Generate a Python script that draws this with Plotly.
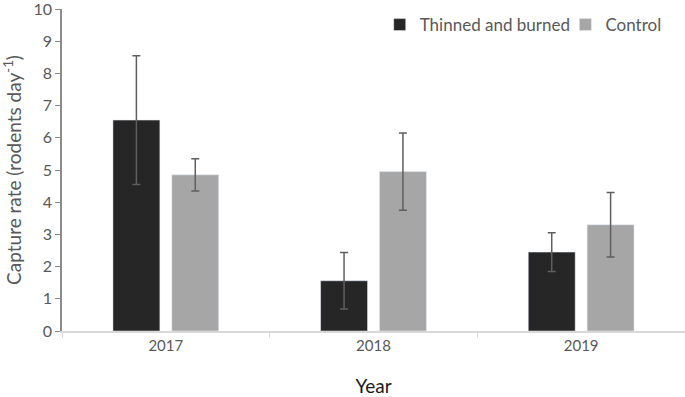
import plotly.graph_objects as go

years = ["2017", "2018", "2019"]
thinned = [6.55, 1.56, 2.45]
thinned_err = [2.0, 0.88, 0.6]
control = [4.85, 4.95, 3.30]
control_err = [0.5, 1.2, 1.0]

font = "Lato, 'Open Sans', sans-serif"
txt = "#595959"

fig = go.Figure()
fig.add_trace(go.Bar(
    x=years, y=thinned, name="Thinned and burned",
    marker=dict(color="#262626"),
    error_y=dict(type="data", array=thinned_err, color="#5f5f5f", thickness=1.5, width=4),
    legend="legend",
))
fig.add_trace(go.Bar(
    x=years, y=control, name="Control",
    marker=dict(color="#a6a6a6"),
    error_y=dict(type="data", array=control_err, color="#5f5f5f", thickness=1.5, width=4),
    legend="legend2",
))

leg_common = dict(orientation="h", y=1.006, xanchor="left", yanchor="top",
                  font=dict(size=17, color=txt), itemwidth=30, bgcolor="rgba(0,0,0,0)")

fig.update_layout(
    width=685, height=397,
    margin=dict(l=62, r=0, t=9, b=66),
    paper_bgcolor="white", plot_bgcolor="white",
    barmode="group", bargap=0.433, bargroupgap=0.203,
    font=dict(family=font, size=15, color=txt),
    legend=dict(x=0.510, **leg_common),
    legend2=dict(x=0.808, **leg_common),
    showlegend=True,
)
fig.update_xaxes(
    type="category", showline=True, linecolor="#d9d9d9", linewidth=1.5,
    ticks="outside", tickson="boundaries", tickcolor="#d9d9d9", ticklen=5,
    showgrid=False, tickfont=dict(size=15, color=txt), automargin=False,
    title=dict(text="Year", font=dict(size=19, color="#1a1a1a"), standoff=34),
)
fig.update_yaxes(
    range=[0, 10], dtick=1, showline=True, linecolor="#8c8c8c", linewidth=1.5,
    ticks="outside", tickcolor="#8c8c8c", ticklen=5, showgrid=False, zeroline=False,
    tickfont=dict(size=16, color=txt), automargin=False, ticklabeloverflow="allow",
    title=dict(text="Capture rate (rodents day<sup>-1</sup>)", font=dict(size=19, color=txt), standoff=9),
)

fig.write_html("out.html", config={"displayModeBar": False},
               post_script="document.body.style.margin='0';")
